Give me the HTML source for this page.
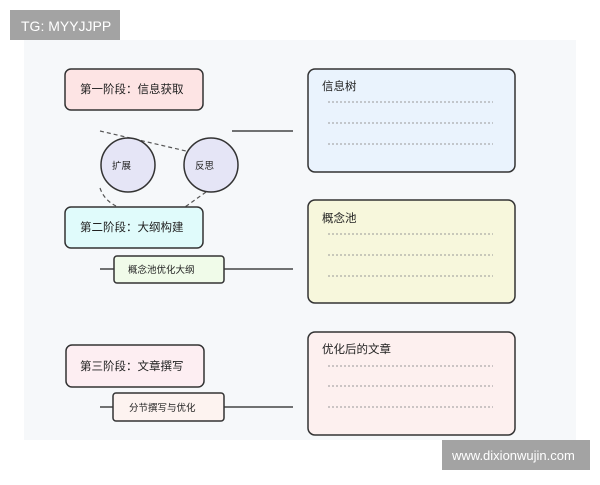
<!DOCTYPE html>
<html><head><meta charset="utf-8"><style>
body{margin:0;width:600px;height:480px;background:#fff;overflow:hidden;font-family:"Liberation Sans","Noto Sans CJK SC",sans-serif}
</style></head><body>
<svg width="600" height="480" xmlns="http://www.w3.org/2000/svg" font-family="Liberation Sans, Noto Sans CJK SC, sans-serif">
<rect x="24" y="40" width="552" height="400" fill="#f6f8fa"/>
<rect x="10" y="10" width="110" height="30" fill="#a3a3a3"/>
<text x="21" y="31" fill="#fff" font-size="14">TG: MYYJJPP</text>
<rect x="442" y="440" width="148" height="30" fill="#a3a3a3"/>
<text x="452" y="460" fill="#fff" font-size="13">www.dixionwujin.com</text>
<g stroke="#444" stroke-width="1.5">
<line x1="232" y1="131" x2="293" y2="131"/>
<line x1="100" y1="269" x2="114" y2="269"/><line x1="224" y1="269" x2="293" y2="269"/>
<line x1="100" y1="407" x2="113" y2="407"/><line x1="224" y1="407" x2="293" y2="407"/>
</g>
<g stroke="#555" stroke-width="1.2" stroke-dasharray="4,3" fill="none">
<line x1="100" y1="131" x2="186" y2="151"/>
<path d="M100 188 Q104 200 116 206"/>
<line x1="206" y1="192" x2="185" y2="207"/>
</g>
<g stroke="#333" stroke-width="1.5">
<rect x="65" y="69" width="138" height="41" rx="6" fill="#fde4e4"/>
<rect x="65" y="207" width="138" height="41" rx="6" fill="#e0fbfb"/>
<rect x="66" y="345" width="138" height="42" rx="6" fill="#fdeef2"/>
<rect x="114" y="256" width="110" height="27" rx="3" fill="#f0fbe9"/>
<rect x="113" y="393" width="111" height="28" rx="3" fill="#fdf3f0"/>
<circle cx="128" cy="165" r="27" fill="#e5e5f6"/>
<circle cx="211" cy="165" r="27" fill="#e5e5f6"/>
<rect x="308" y="69" width="207" height="103" rx="7" fill="#eaf3fd"/>
<rect x="308" y="200" width="207" height="103" rx="7" fill="#f7f7dc"/>
<rect x="308" y="332" width="207" height="103" rx="7" fill="#fdf0ef"/>
</g>
<g fill="#222" font-size="11.5">
<text x="80" y="93">第一阶段：信息获取</text>
<text x="80" y="231">第二阶段：大纲构建</text>
<text x="80" y="370">第三阶段：文章撰写</text>
<text x="128" y="273" font-size="9.5">概念池优化大纲</text>
<text x="129" y="411" font-size="9.5">分节撰写与优化</text>
<text x="112" y="169" font-size="9.5">扩展</text>
<text x="195" y="169" font-size="9.5">反思</text>
<text x="322" y="90">信息树</text>
<text x="322" y="222">概念池</text>
<text x="322" y="353">优化后的文章</text>
</g>
<g stroke="#999" stroke-width="1" stroke-dasharray="2,2">
<line x1="328" y1="102" x2="493" y2="102"/><line x1="328" y1="123" x2="493" y2="123"/><line x1="328" y1="144" x2="493" y2="144"/>
<line x1="328" y1="234" x2="493" y2="234"/><line x1="328" y1="255" x2="493" y2="255"/><line x1="328" y1="276" x2="493" y2="276"/>
<line x1="328" y1="366" x2="493" y2="366"/><line x1="328" y1="386" x2="493" y2="386"/><line x1="328" y1="407" x2="493" y2="407"/>
</g>
</svg>
</body></html>
